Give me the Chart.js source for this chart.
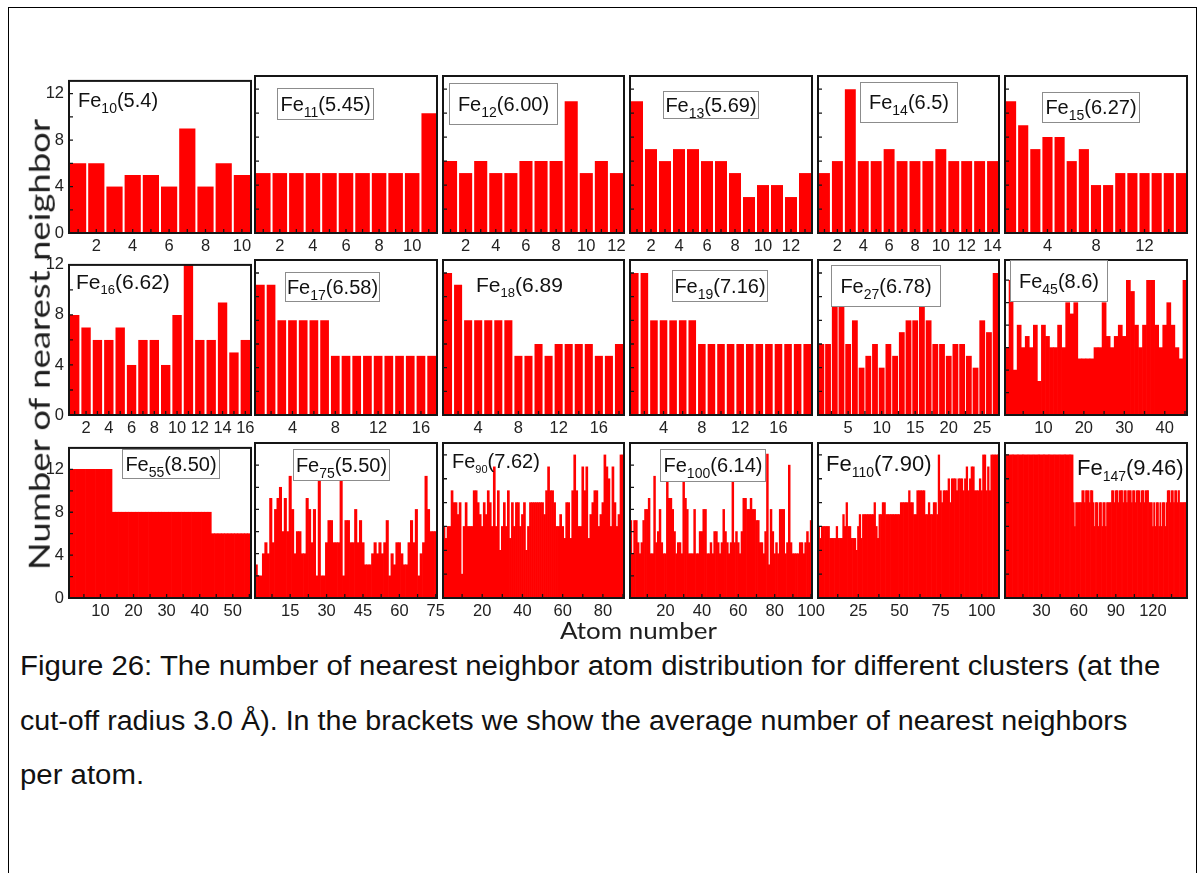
<!DOCTYPE html>
<html>
<head>
<meta charset="utf-8">
<script src="https://cdn.jsdelivr.net/npm/chart.js@4.4.1/dist/chart.umd.min.js"></script>
<style>
  html, body { margin: 0; padding: 0; background: #fff; }
  #page { position: relative; width: 1204px; height: 873px; overflow: hidden; background: #fff;
          font-family: "Liberation Sans", Arial, sans-serif; }
  #frame { position: absolute; left: 8px; top: 7px; width: 1187px; height: 900px; border: 1px solid #000; }
  canvas.panel { position: absolute; }
  .tag { position: absolute; display: flex; align-items: center; justify-content: center;
         font-size: 20px; color: #111; white-space: nowrap; z-index: 5; box-sizing: border-box; }
  .tag.boxed { background: #fff; border: 1px solid #8c8c8c; }
  .tag.plain { justify-content: flex-start; }
  .tag sub { vertical-align: -0.42em; line-height: 0; }
  .axis-title { position: absolute; font-family: Lato, "Open Sans", sans-serif; color: #1e1e1e;
                white-space: nowrap; z-index: 6; transform-origin: 50% 50%; }
  .cap { position: absolute; left: 20px; font-size: 27px; color: #111; white-space: nowrap;
         transform-origin: 0 50%; }
</style>
</head>
<body>
<div id="page">
  <div id="frame"></div>
  <div id="ytitle" class="axis-title" style="font-size:29px;">Number of nearest neighbor</div>
  <div id="xtitle" class="axis-title" style="font-size:24px;">Atom number</div>
  <div class="cap" style="top:651px;">Figure 26: The number of nearest neighbor atom distribution for different clusters (at the</div>
  <div class="cap" style="top:706px;">cut-off radius 3.0 Å). In the brackets we show the average number of nearest neighbors</div>
  <div class="cap" style="top:760px;">per atom.</div>
</div>
<script>
// Number of nearest neighbours of every atom, one array per cluster
const fe10 = [6, 6, 4, 5, 5, 4, 9, 4, 6, 5];
const fe11 = [5, 5, 5, 5, 5, 5, 5, 5, 5, 5, 10];
const fe12 = [6, 5, 6, 5, 5, 6, 6, 6, 11, 5, 6, 5];
const fe13 = [11, 7, 6, 7, 7, 6, 6, 5, 3, 4, 4, 3, 5];
const fe14 = [5, 6, 12, 6, 6, 7, 6, 6, 6, 7, 6, 6, 6, 6];
const fe15 = [11, 9, 7, 8, 8, 6, 7, 4, 4, 5, 5, 5, 5, 5, 5];
const fe16 = [8, 7, 6, 6, 7, 4, 6, 6, 4, 8, 12, 6, 6, 9, 5, 6];
const fe17 = [11, 11, 8, 8, 8, 8, 8, 5, 5, 5, 5, 5, 5, 5, 5, 5, 5];
const fe18 = [12, 11, 8, 8, 8, 8, 8, 5, 5, 6, 5, 6, 6, 6, 6, 5, 5, 6];
const fe19 = [12, 12, 8, 8, 8, 8, 8, 6, 6, 6, 6, 6, 6, 6, 6, 6, 6, 6, 6];
const fe27 = [6, 6, 10, 10, 6, 8, 4, 5, 6, 4, 6, 5, 7, 8, 8, 11, 8, 6, 6, 5, 6, 6, 5, 4, 8, 7, 12];
const fe45 = [6, 12, 4, 8, 6, 7, 6, 8, 3, 8, 7, 6, 6, 8, 6, 10, 9, 10, 5, 5, 5, 5, 6,
              6, 10, 7, 6, 7, 8, 7, 12, 11, 8, 6, 8, 12, 12, 8, 6, 8, 10, 8, 6, 5, 12];
const fe55 = [12, 12, 12, 12, 12, 12, 12, 12, 12, 12, 12, 12, 12,
              8, 8, 8, 8, 8, 8, 8, 8, 8, 8, 8, 8, 8, 8, 8, 8, 8, 8, 8, 8, 8, 8, 8, 8, 8, 8, 8, 8, 8, 8,
              6, 6, 6, 6, 6, 6, 6, 6, 6, 6, 6, 6];
const fe75 = [3, 2, 2, 4, 5, 4, 9, 5, 8, 9, 10, 6, 9, 6, 11, 8, 4, 6, 6, 4,
              4, 9, 8, 5, 8, 2, 11, 2, 2, 5, 7, 7, 5, 5, 5, 11, 2, 7, 7, 5,
              5, 8, 5, 7, 5, 3, 3, 3, 4, 5, 4, 5, 4, 5, 7, 2, 4, 3, 5, 5,
              4, 3, 3, 5, 7, 5, 8, 2, 4, 5, 11, 8, 6, 6, 6];
const fe90 = [6, 5, 6, 6, 9, 8, 8, 7, 8, 2, 6, 8, 6, 6, 6, 9, 9, 8, 7, 6,
              8, 7, 9, 8, 6, 11, 6, 9, 4, 6, 8, 6, 9, 5, 8, 6, 8, 8, 6, 7,
              8, 4, 6, 8, 8, 8, 8, 8, 8, 8, 7, 9, 11, 9, 9, 8, 6, 6, 7, 6,
              5, 8, 8, 5, 9, 12, 9, 6, 6, 11, 9, 11, 5, 7, 8, 9, 9, 6, 7, 8,
              12, 11, 10, 6, 11, 8, 6, 7, 12, 12];
const fe100 = [7, 4, 7, 7, 5, 4, 5, 7, 8, 8, 9, 4, 4, 11, 5, 6, 8, 5, 4, 4,
               11, 9, 9, 8, 6, 4, 5, 5, 4, 11, 9, 8, 4, 4, 4, 8, 4, 4, 6, 6,
               8, 8, 4, 4, 5, 4, 6, 6, 5, 4, 5, 8, 6, 5, 4, 5, 11, 5, 6, 5,
               4, 6, 9, 9, 8, 8, 9, 8, 8, 7, 7, 5, 5, 4, 6, 13, 3, 8, 6, 4,
               5, 4, 8, 8, 8, 4, 5, 12, 5, 4, 4, 4, 4, 5, 5, 4, 5, 6, 5, 7];
const fe110 = [6, 5, 6, 6, 6, 6, 6, 5, 5, 5, 5, 6, 5, 5, 5, 7, 6, 8, 6, 6,
               5, 5, 5, 4, 6, 7, 5, 7, 7, 7, 7, 7, 7, 7, 8, 6, 5, 7, 7, 8,
               8, 7, 7, 7, 7, 7, 7, 7, 7, 7, 8, 8, 8, 8, 8, 9, 8, 8, 7, 7,
               9, 9, 9, 9, 9, 7, 7, 8, 7, 7, 8, 8, 7, 12, 9, 8, 9, 9, 9, 10,
               8, 10, 10, 10, 9, 10, 10, 10, 9, 10, 11, 9, 10, 11, 11, 9, 9, 9, 10, 9,
               12, 12, 9, 11, 9, 12, 12, 12, 12, 12];
const fe147 = [12, 12, 12, 12, 12, 12, 12, 12, 12, 12, 12,
               12, 12, 12, 12, 12, 12, 12, 12, 12, 12, 12,
               12, 12, 12, 12, 12, 12, 12, 12, 12, 12, 12,
               12, 12, 12, 12, 12, 12, 12, 12, 12, 12, 12,
               12, 12, 12, 12, 12, 12, 12, 12, 12, 12, 12,
               8, 6, 8, 8, 8, 8, 8,
               9, 9, 8, 9, 9, 9, 8, 9, 9,
               8, 6, 8, 8, 6, 8, 8, 6, 8, 8, 6, 8, 8, 8, 8,
               9, 9, 8, 9, 9, 8, 9, 9, 9, 8, 9, 9, 8, 9, 9, 9, 8, 9, 9, 8, 9, 9, 9, 8, 9, 9, 8, 9, 9, 9, 8,
               8, 8, 6, 8, 6, 8, 8, 6, 8, 6, 8, 8, 6, 8,
               9, 9, 8, 9, 9, 8, 9, 9, 8, 9,
               8, 8, 8, 8, 8, 8];

// Cluster sizes and average coordination shown in each panel tag
const clusterSizes = ['10', '11', '12', '13', '14', '15', '16', '17', '18', '19', '27', '45', '55', '75', '90', '100', '110', '147'];
const averages = ['(5.4)', '(5.45)', '(6.00)', '(5.69)', '(6.5)', '(6.27)', '(6.62)', '(6.58)', '(6.89',
                  '(7.16)', '(6.78)', '(8.6)', '(8.50)', '(5.50)', '(7.62)', '(6.14)', '(7.90)', '(9.46)'];
const seriesList = [fe10, fe11, fe12, fe13, fe14, fe15, fe16, fe17, fe18,
                    fe19, fe27, fe45, fe55, fe75, fe90, fe100, fe110, fe147];

// Labelled atom numbers on each x axis
const xTicks = [
  [2, 4, 6, 8, 10], [2, 4, 6, 8, 10], [2, 4, 6, 8, 10, 12], [2, 4, 6, 8, 10, 12],
  [2, 4, 6, 8, 10, 12, 14], [4, 8, 12],
  [2, 4, 6, 8, 10, 12, 14, 16], [4, 8, 12, 16], [4, 8, 12, 16], [4, 8, 12, 16],
  [5, 10, 15, 20, 25], [10, 20, 30, 40],
  [10, 20, 30, 40, 50], [15, 30, 45, 60, 75], [20, 40, 60, 80], [20, 40, 60, 80, 100],
  [25, 50, 75, 100], [30, 60, 90, 120]
];
// Labelled values on the y axes of the first column
const yTicks = [0, 4, 8, 12];
// Upper end of every y axis
const yMax = [13.1, 13.1, 13.1, 13.1, 13.1, 13.1,
              12, 13.1, 13.1, 13.1, 13.1, 13.8,
              14, 14, 13, 14, 13, 13];

// Panel grid geometry
const colEdges = [[69, 251], [255, 437], [443, 624], [630, 812], [818, 999], [1005, 1187]];
const rowEdges = [[75.5, 232.5], [259.5, 414], [442.5, 597]];

// Tag boxes: left, top, width, height, boxed, font size, subscript size
const tagBoxes = [
  [78, 86, 95, 28, false, 20, 14], [277, 88, 97, 32, true, 20, 14], [449, 83, 109, 42, true, 20, 14],
  [663, 91, 96, 28, true, 20, 14], [860, 82, 98, 41, true, 20, 14], [1042, 92, 98, 31, true, 20, 14],
  [76, 268, 106, 28, false, 21, 13], [285, 272, 95, 30, true, 20, 14], [476, 271, 100, 28, false, 21, 13],
  [672, 270, 96, 32, true, 20, 14], [831, 265, 110, 42, true, 20, 14], [1010, 260, 98, 42, true, 20, 14],
  [122, 449, 98, 30, true, 20, 14], [293, 449, 97, 32, true, 20, 14], [452, 447, 90, 28, false, 20, 11],
  [660, 449, 106, 33, true, 20, 14], [826, 449, 112, 30, false, 22, 14], [1077, 453, 114, 30, false, 22, 14]
];

// Caption line extents (left edge at 20px); the short last line keeps the first line's stretch
const captionWidths = [1140, 1108];

const PL = 48, PR = 18, PT = 10, PB = 30;
const tickFont = { family: '"Liberation Sans", Arial, sans-serif', size: 16.5 };

// Panel frame plus short inward tick marks on the left and bottom axes
const framePlugin = {
  id: 'frame',
  afterDatasetsDraw(chart, args, opts) {
    const { ctx, chartArea: a, scales: { x, y } } = chart;
    ctx.save();
    ctx.strokeStyle = '#151515';
    ctx.lineWidth = 1.3;
    ctx.beginPath();
    for (let v = 2; v < y.max; v += 2) {
      const py = y.getPixelForValue(v);
      ctx.moveTo(a.left, py);
      ctx.lineTo(a.left + 4, py);
    }
    const t = opts.ticks;
    const half = (t[1] - t[0]) / 2;
    for (let k = t[0] - half; k <= opts.count + 0.01; k += half) {
      if (k < 1) continue;
      const px = x.getPixelForValue(k - 1);
      ctx.moveTo(px, a.bottom);
      ctx.lineTo(px, a.bottom - 4);
    }
    ctx.stroke();
    ctx.lineWidth = 2;
    ctx.strokeRect(a.left, a.top, a.right - a.left, a.bottom - a.top);
    ctx.restore();
  }
};

const page = document.getElementById('page');

seriesList.forEach((data, i) => {
  const row = Math.floor(i / 6), col = i % 6;
  const [x0, x1] = colEdges[col];
  const [y0, y1] = rowEdges[row];
  const w = x1 - x0, h = y1 - y0;
  const n = data.length;
  const atoms = data.map((_, k) => String(k + 1));
  const pitch = w / n;
  const gap = n <= 19 ? 2 : (n <= 27 ? 0.9 : 0);
  const ticks = xTicks[i];

  const canvas = document.createElement('canvas');
  canvas.className = 'panel';
  const cw = Math.round(w + PL + PR), ch = Math.round(h + PT + PB);
  canvas.width = cw; canvas.height = ch;
  canvas.style.width = cw + 'px'; canvas.style.height = ch + 'px';
  canvas.style.left = (x0 - PL) + 'px';
  canvas.style.top = (y0 - PT) + 'px';
  page.appendChild(canvas);

  new Chart(canvas, {
    type: 'bar',
    data: {
      labels: atoms,
      datasets: [{ data, backgroundColor: '#ff0000', borderWidth: 0,
                   barPercentage: 1 - gap / pitch, categoryPercentage: 1 }]
    },
    options: {
      responsive: false, animation: false, devicePixelRatio: 1,
      layout: { padding: { left: 0, right: PR, top: PT, bottom: 0 } },
      plugins: { legend: { display: false }, tooltip: { enabled: false },
                 frame: { ticks, count: n } },
      scales: {
        x: {
          offset: true,
          grid: { display: false, drawTicks: false },
          border: { display: false },
          ticks: { autoSkip: false, maxRotation: 0, minRotation: 0, padding: 4,
                   color: '#222', font: tickFont,
                   callback: (v, k) => ticks.includes(k + 1) ? String(k + 1) : '' },
          afterFit: s => { s.height = PB; }
        },
        y: {
          min: 0, max: yMax[i],
          grid: { display: false, drawTicks: false },
          border: { display: false },
          ticks: { display: col === 0, stepSize: 4, includeBounds: false, padding: 5,
                   color: '#222', font: tickFont,
                   callback: v => yTicks.includes(v) ? String(v) : '' },
          afterFit: s => { s.width = PL; }
        }
      }
    },
    plugins: [framePlugin]
  });

  // Cluster tag: Fe with the atom count as subscript and the average in brackets
  const [tx, ty, tw, th, boxed, fs, ss] = tagBoxes[i];
  const tag = document.createElement('div');
  tag.className = 'tag ' + (boxed ? 'boxed' : 'plain');
  tag.style.left = tx + 'px'; tag.style.top = ty + 'px';
  tag.style.width = tw + 'px'; tag.style.height = th + 'px';
  tag.style.fontSize = fs + 'px';
  tag.innerHTML = '<span>Fe<sub style="font-size:' + ss + 'px">' + clusterSizes[i] + '</sub>' + averages[i] + '</span>';
  page.appendChild(tag);
});

// Shared axis titles, stretched to the span they cover
function placeTitle(el, cx, cy, span, rotate) {
  const wNat = el.offsetWidth, hNat = el.offsetHeight;
  el.style.left = (cx - wNat / 2) + 'px';
  el.style.top = (cy - hNat / 2) + 'px';
  const k = span / wNat;
  el.style.transform = (rotate ? 'rotate(-90deg) ' : '') + 'scaleX(' + k.toFixed(3) + ')';
}
placeTitle(document.getElementById('ytitle'), 38, 344, 452, true);
placeTitle(document.getElementById('xtitle'), 638, 629, 157, false);

// Caption lines: the first two are stretched to their extents, the last one reuses the first stretch
const capLines = document.querySelectorAll('.cap');
const capScales = captionWidths.map((wd, k) => wd / capLines[k].offsetWidth);
capLines.forEach((c, k) => {
  const s = k < capScales.length ? capScales[k] : capScales[0];
  c.style.transform = 'scaleX(' + s.toFixed(3) + ')';
});
</script>
</body>
</html>
